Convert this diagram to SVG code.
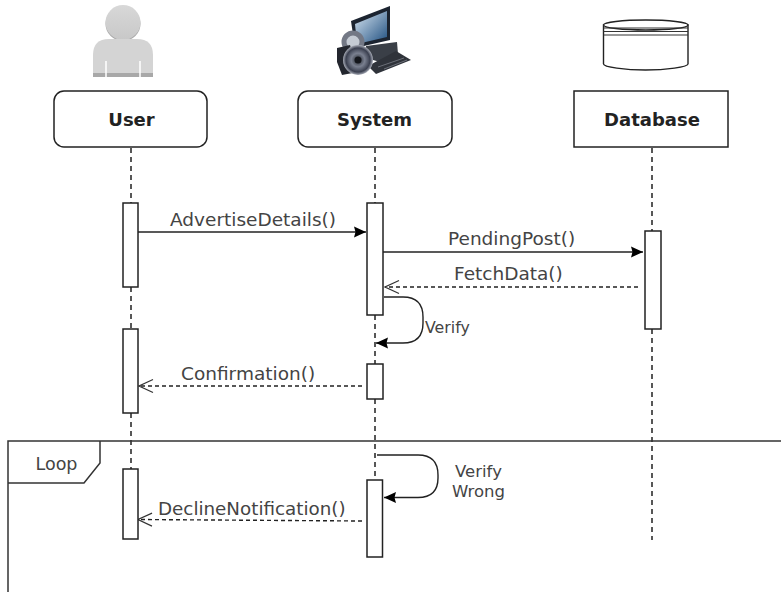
<svg xmlns="http://www.w3.org/2000/svg" width="781" height="592" viewBox="0 0 781 592">
<style>
.t{font-family:"DejaVu Sans",sans-serif;fill:#444;font-size:18.500px}
.s{font-family:"DejaVu Sans",sans-serif;fill:#444;font-size:16.500px}
.b{font-family:"DejaVu Sans",sans-serif;fill:#222;font-size:18px;font-weight:bold;text-anchor:middle}
.box{fill:#fff;stroke:#222;stroke-width:1.5}
.ln{fill:none;stroke:#222;stroke-width:1.6}
.sel{fill:none;stroke:#222;stroke-width:1.4}
.dash{fill:none;stroke:#222;stroke-width:1.4;stroke-dasharray:4 3}
.life{fill:none;stroke:#111;stroke-width:1.4;stroke-dasharray:5 4}
</style>
<defs>
<marker id="f" markerUnits="userSpaceOnUse" markerWidth="13" markerHeight="12" refX="12" refY="6" orient="auto"><path d="M0 .5L12 6L0 11.500L1.500 6Z" fill="#000"/></marker>
<marker id="o" markerUnits="userSpaceOnUse" markerWidth="16" markerHeight="16" refX="15" refY="8" orient="auto"><path d="M1 1.500L15 8L1 14.500" fill="none" stroke="#333" stroke-width="1.200"/></marker>
<linearGradient id="scr" x1="0" y1="0" x2="1" y2="1"><stop offset="0" stop-color="#d8e6f2"/><stop offset="1" stop-color="#1f4f80"/></linearGradient>
<radialGradient id="lens"><stop offset="0" stop-color="#20242c"/><stop offset=".45" stop-color="#7a8090"/><stop offset=".8" stop-color="#3b4050"/><stop offset="1" stop-color="#a9adb8"/></radialGradient>
<linearGradient id="head" x1="0" y1="0" x2="0" y2="1"><stop offset="0" stop-color="#d8d8d8"/><stop offset="1" stop-color="#c8c8c8"/></linearGradient>
</defs>
<g id="connectors">
<path class="life" d="M131 148V203M131 287V329M131 413V469"/>
<path class="life" d="M375 148V203M375 315V364M375 399V480"/>
<path class="life" d="M652 148V231M652 329V540"/>
<path class="ln" d="M138 232H366" marker-end="url(#f)"/>
<path class="ln" d="M383 252H643" marker-end="url(#f)"/>
<path class="dash" d="M638 287H385" marker-end="url(#o)"/>
<path class="sel" d="M384 297H403Q423 297 423 317V323Q423 343 403 343H376" marker-end="url(#f)"/>
<path class="dash" d="M362 386H139" marker-end="url(#o)"/>
<path class="sel" d="M377 455H418Q438 455 438 475V478Q438 497.500 418 497.500H384" marker-end="url(#f)"/>
<path class="dash" d="M362 521L138 519.500" marker-end="url(#o)"/>
<text class="t" x="170" y="226">AdvertiseDetails()</text>
<text class="t" x="448" y="245">PendingPost()</text>
<text class="t" x="454" y="280">FetchData()</text>
<text class="s" x="425" y="333" style="font-size:15.800px">Verify</text>
<text class="t" x="181" y="380">Confirmation()</text>
<text class="s" x="478.500" y="477" text-anchor="middle">Verify</text>
<text class="s" x="478.500" y="497" text-anchor="middle">Wrong</text>
<text class="t" x="158" y="515" style="font-size:18.300px">DeclineNotification()</text>
</g>
<g id="loop">
<path fill="none" stroke="#333" stroke-width="1.500" d="M781 441H8V592"/>
<path fill="none" stroke="#333" stroke-width="1.500" d="M8 483H84L100 463V441"/>
<text class="s" x="56.500" y="470" text-anchor="middle" style="font-size:17.500px">Loop</text>
</g>
<g id="user-icon">
<ellipse cx="123" cy="24" rx="17.500" ry="17" fill="#a8a8a8"/>
<circle cx="123" cy="22.500" r="17.500" fill="url(#head)"/>
<path d="M93 77V55Q93 39 109 39H137Q153 39 153 55V77Z" fill="#d4d4d4"/>
<rect x="93" y="73" width="60" height="4" fill="#a8a8a8"/>
<path d="M106 61V77M140 61V77" stroke="#fff" stroke-width="1.500"/>
</g>
<g id="system-icon">
<path d="M366 46L397 42L398 54L380 62L366 58Z" fill="#3a3f47"/>
<path d="M396 51L411 60L376 74L368 66Z" fill="#2f333a"/>
<path d="M378 67L404 58M384 69L407 60" stroke="#6b6f78" stroke-width="1" fill="none"/>
<path d="M351 21L390 6V40L355 48Z" fill="#1c2430"/>
<path d="M355 24L387 11V37L357 44Z" fill="url(#scr)"/>
<circle cx="353" cy="42" r="9" fill="#c5cbd4" stroke="#737885" stroke-width="5"/>
<path d="M337 48L350 45L358 72L342 75L337 62Z" fill="#23262e"/>
<circle cx="358" cy="60" r="15" fill="url(#lens)"/>
<circle cx="358" cy="60" r="3.500" fill="#14161c"/>
</g>
<g id="database-icon">
<path d="M603.500 25V64C603.500 67 625 70 645.500 70S688 67 688 64V25Z" fill="#fff" stroke="#222" stroke-width="1.400"/>
<ellipse cx="645.750" cy="25" rx="42.250" ry="5" fill="#fff" stroke="#222" stroke-width="1.400"/>
<path d="M603.500 28H688M603.500 31.500H688M603.500 35H688" stroke="#333" stroke-width="1.100" fill="none"/>
</g>
<g id="user"><rect class="box" x="54" y="91" width="153" height="56" rx="10"/><text class="b" x="131.500" y="126">User</text></g>
<g id="system"><rect class="box" x="298" y="91" width="154" height="56" rx="10"/><text class="b" x="374.500" y="126">System</text></g>
<g id="database"><rect class="box" x="574" y="91" width="154" height="56"/><text class="b" x="652" y="126">Database</text></g>
<g id="user-act-1"><rect class="box" x="123" y="203" width="15" height="84"/></g>
<g id="user-act-2"><rect class="box" x="123" y="329" width="15" height="84"/></g>
<g id="user-act-3"><rect class="box" x="123" y="469" width="15" height="70"/></g>
<g id="system-act-1"><rect class="box" x="367" y="203" width="16" height="112"/></g>
<g id="system-act-2"><rect class="box" x="367" y="364" width="16" height="35"/></g>
<g id="system-act-3"><rect class="box" x="367" y="480" width="15.500" height="77"/></g>
<g id="database-act"><rect class="box" x="645" y="231" width="16" height="98"/></g>
</svg>
